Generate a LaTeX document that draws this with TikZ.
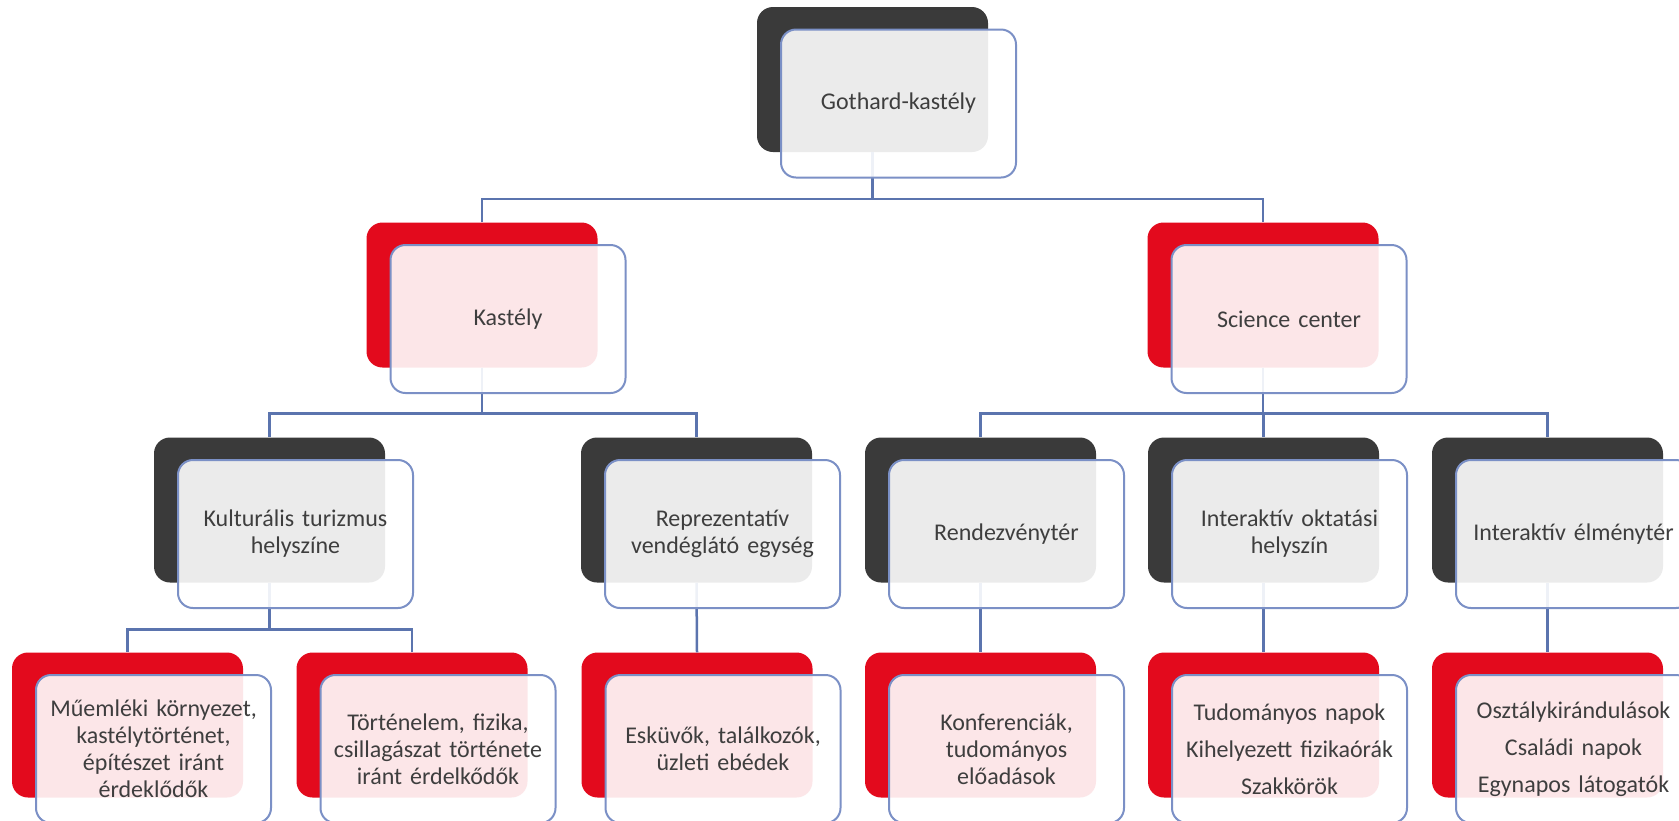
\documentclass[tikz,border=0pt]{standalone}
\usepackage{fontspec}
\setmainfont{Carlito}
\definecolor{darkbox}{HTML}{3A3A3A}
\definecolor{redbox}{HTML}{E30A1D}
\definecolor{frontline}{HTML}{7B90C6}
\definecolor{connline}{HTML}{5B74AE}
\definecolor{txt}{HTML}{3E3E3E}
\begin{document}
\begin{tikzpicture}[x=1pt,y=-1pt,
  back/.style={rounded corners=16pt, minimum width=231pt, minimum height=145pt, inner sep=0pt, draw=none},
  dk/.style={back, fill=darkbox},
  rd/.style={back, fill=redbox},
  front/.style={rounded corners=15pt, minimum width=235pt, minimum height=148pt, draw=frontline, line width=2pt,
    fill=white, fill opacity=0.9, text opacity=1, text=txt, align=center, text width=228pt, inner sep=0pt,
    font=\fontsize{24}{27}\selectfont},
  conn/.style={draw=connline, line width=2.5pt}]
\useasboundingbox (0,0) rectangle (1679,820);
\clip (0,0) rectangle (1679,820);
\fill[white] (0,0) rectangle (1679,820);
% back boxes
\node[dk] (b0) at (872.5,79.5) {};
\node[rd] (b1) at (482,295) {};
\node[rd] (b2) at (1263,295) {};
\node[dk] (b11) at (269.5,510) {};
\node[dk] (b12) at (696.5,510) {};
\node[dk] (b21) at (980.5,510) {};
\node[dk] (b22) at (1263.5,510) {};
\node[dk] (b23) at (1547.5,510) {};
\node[rd] (b111) at (127.5,725) {};
\node[rd] (b112) at (412,725) {};
\node[rd] (b121) at (697,725) {};
\node[rd] (b211) at (980.5,725) {};
\node[rd] (b221) at (1263.5,725) {};
\node[rd] (b231) at (1547.5,725) {};
% connectors
\draw[conn] (b0.south) -- ++(0,47) -| (b1.north);
\draw[conn] (b0.south) -- ++(0,47) -| (b2.north);
\draw[conn] (b1.south) -- ++(0,46) -| (b11.north);
\draw[conn] (b1.south) -- ++(0,46) -| (b12.north);
\draw[conn] (b2.south) -- ++(0,46) -| (b21.north);
\draw[conn] (b2.south) -- ++(0,46) -| (b22.north);
\draw[conn] (b2.south) -- ++(0,46) -| (b23.north);
\draw[conn] (b11.south) -- ++(0,47) -| (b111.north);
\draw[conn] (b11.south) -- ++(0,47) -| (b112.north);
\draw[conn] (b12.south) -- (b121.north);
\draw[conn] (b21.south) -- (b211.north);
\draw[conn] (b22.south) -- (b221.north);
\draw[conn] (b23.south) -- (b231.north);
% front boxes
\node[front] (f0) at ([shift={(26,24)}]b0.center) {Gothard-kastély};
\node[front] (f1) at ([shift={(26,24)}]b1.center) {Kastély};
\node[front] (f2) at ([shift={(26,24)}]b2.center) {Science center};
\node[front] (f11) at ([shift={(26,24)}]b11.center) {Kulturális turizmus\\helyszíne};
\node[front] (f12) at ([shift={(26,24)}]b12.center) {Reprezentatív\\vendéglátó egység};
\node[front] (f21) at ([shift={(26,24)}]b21.center) {Rendezvénytér};
\node[front] (f22) at ([shift={(26,24)}]b22.center) {Interaktív oktatási\\helyszín};
\node[front] (f23) at ([shift={(26,24)}]b23.center) {Interaktív élménytér};
\node[front] (f111) at ([shift={(26,24)}]b111.center) {Műemléki környezet,\\kastélytörténet,\\építészet iránt\\érdeklődők};
\node[front] (f112) at ([shift={(26,24)}]b112.center) {Történelem, fizika,\\csillagászat története\\iránt érdelkődők};
\node[front] (f121) at ([shift={(26,24)}]b121.center) {Esküvők, találkozók,\\üzleti ebédek};
\node[front] (f211) at ([shift={(26,24)}]b211.center) {Konferenciák,\\tudományos\\előadások};
\node[front] (f221) at ([shift={(26,24)}]b221.center) {Tudományos napok\\[10pt]Kihelyezett fizikaórák\\[10pt]Szakkörök};
\node[front] (f231) at ([shift={(26,24)}]b231.center) {Osztálykirándulások\\[10pt]Családi napok\\[10pt]Egynapos látogatók};
\end{tikzpicture}
\end{document}
